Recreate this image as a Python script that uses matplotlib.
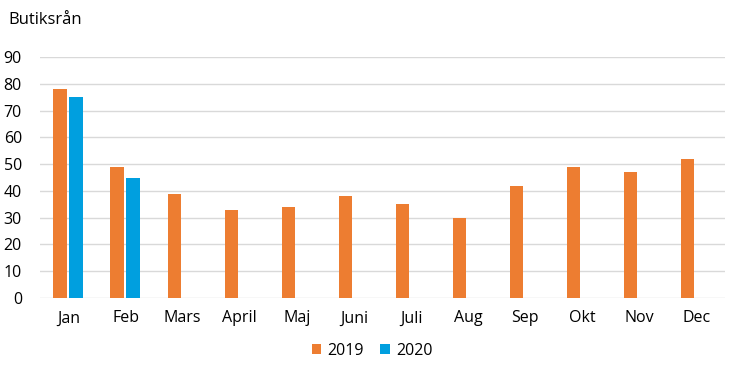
import matplotlib
matplotlib.use("Agg")
import matplotlib.pyplot as plt
import numpy as np

months = ["Jan", "Feb", "Mars", "April", "Maj", "Juni", "Juli", "Aug", "Sep", "Okt", "Nov", "Dec"]
v2019 = [78, 49, 39, 33, 34, 38, 35, 30, 42, 49, 47, 52]
v2020 = [75, 45]
yticks = [0, 10, 20, 30, 40, 50, 60, 70, 80, 90]

plt.rcParams['font.family'] = ['Open Sans', 'DejaVu Sans']

fig = plt.figure(figsize=(7.41, 3.71), dpi=100)
ax = fig.add_axes([40/741, 1-298/371, 685/741, 241/371])

x = np.arange(len(months))
w = 0.23
ax.bar(x - 0.15, v2019, width=w, color="#ED7D31", label="2019", zorder=3)
ax.bar(x[:len(v2020)] + 0.13, v2020, width=w, color="#009FDF", label="2020", zorder=3)

ax.set_xlim(-0.5, len(months) - 0.5)
ax.set_ylim(0, 90)
ax.set_yticks(yticks)
ax.set_xticks(x)
ax.set_xticklabels(months)
ax.grid(axis='y', color='#d9d9d9', linewidth=1, zorder=0)
for s in ax.spines.values():
    s.set_visible(False)
ax.tick_params(axis='both', length=0, labelsize=11.5, colors='#000000')
ax.tick_params(axis='y', pad=13)
ax.tick_params(axis='x', pad=9)

fig.text(8/741, 1-20/371, "Butiksrån", fontsize=12, va='center', ha='left')

leg = fig.legend(loc='center', bbox_to_anchor=(372/741, 1-351/371), ncol=2, frameon=False,
                 fontsize=11.5, handlelength=0.6, handleheight=0.6, handletextpad=0.4,
                 columnspacing=1.0)

fig.savefig("out.png", dpi=100)
